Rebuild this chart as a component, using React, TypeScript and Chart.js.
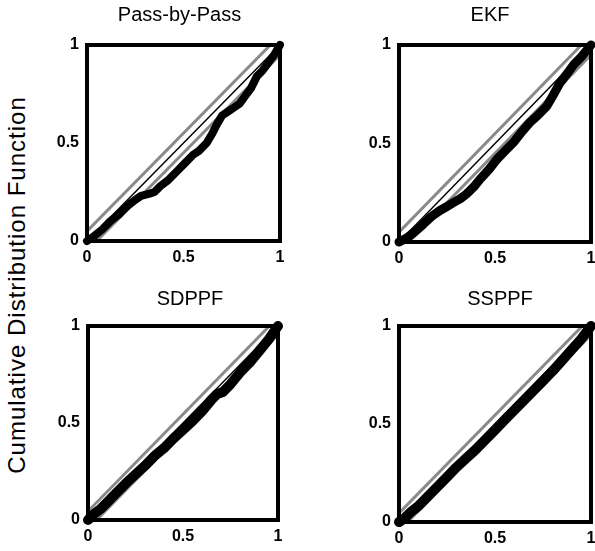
import React, { useEffect, useRef } from "react";
import { Chart, registerables } from "chart.js";

Chart.register(...registerables);

// ---- data ----
const panelTitles = ["Pass-by-Pass", "EKF", "SDPPF", "SSPPF"];
const yAxisTitle = "Cumulative Distribution Function";
const tickValues = [0, 0.5, 1];
const tickLabels = ["0", "0.5", "1"];
// KS confidence bound half-width per panel
const ksBounds = [0.05, 0.05, 0.045, 0.045];

// KS curves: model quantiles (x) vs empirical CDF (y)
const passX = [0, 0.03, 0.08, 0.12, 0.17, 0.21, 0.25, 0.28, 0.32, 0.35, 0.38, 0.42, 0.47, 0.51, 0.55, 0.58, 0.62, 0.65, 0.67, 0.7, 0.73, 0.76, 0.79, 0.82, 0.85, 0.88, 0.91, 0.94, 0.97, 1];
const passY = [0, 0.02, 0.06, 0.1, 0.14, 0.18, 0.21, 0.23, 0.24, 0.25, 0.28, 0.31, 0.36, 0.4, 0.44, 0.46, 0.5, 0.55, 0.59, 0.64, 0.66, 0.68, 0.7, 0.74, 0.78, 0.84, 0.87, 0.91, 0.95, 1];

const ekfX = [0, 0.04, 0.08, 0.126, 0.17, 0.213, 0.25, 0.283, 0.32, 0.353, 0.39, 0.423, 0.47, 0.51, 0.55, 0.6, 0.64, 0.685, 0.72, 0.77, 0.8, 0.84, 0.88, 0.91, 0.95, 1];
const ekfY = [0, 0.02, 0.05, 0.09, 0.13, 0.16, 0.18, 0.2, 0.22, 0.245, 0.28, 0.32, 0.37, 0.42, 0.46, 0.51, 0.56, 0.61, 0.64, 0.69, 0.74, 0.81, 0.86, 0.9, 0.94, 1];

const sdppfX = [0, 0.03, 0.07, 0.1, 0.15, 0.2, 0.25, 0.3, 0.35, 0.4, 0.45, 0.5, 0.55, 0.6, 0.65, 0.68, 0.71, 0.75, 0.8, 0.85, 0.9, 0.95, 1];
const sdppfY = [0, 0.03, 0.06, 0.09, 0.14, 0.19, 0.235, 0.28, 0.33, 0.37, 0.42, 0.465, 0.51, 0.56, 0.62, 0.65, 0.66, 0.7, 0.76, 0.81, 0.87, 0.93, 1];

const ssppfX = [0, 0.03, 0.06, 0.1, 0.15, 0.2, 0.25, 0.3, 0.35, 0.4, 0.45, 0.5, 0.55, 0.6, 0.65, 0.7, 0.75, 0.8, 0.85, 0.9, 0.95, 1];
const ssppfY = [0, 0.02, 0.05, 0.08, 0.13, 0.18, 0.23, 0.28, 0.325, 0.37, 0.42, 0.47, 0.52, 0.57, 0.62, 0.67, 0.72, 0.77, 0.825, 0.88, 0.935, 1];

const curveXs = [passX, ekfX, sdppfX, ssppfX];
const curveYs = [passY, ekfY, sdppfY, ssppfY];

// ---- layout (page pixels) ----
const panels = [
  { l: 87, t: 45, r: 280, b: 241, titleDx: -4, titleY: 15, curveW: 8 },
  { l: 399, t: 45, r: 591, b: 242, titleDx: -5, titleY: 15, curveW: 9 },
  { l: 88, t: 326, r: 278, b: 520, titleDx: 7, titleY: 299, curveW: 10 },
  { l: 399, t: 326, r: 591, b: 522, titleDx: 5, titleY: 299, curveW: 10 },
];
const PAD_L = 40;
const PAD_T = 45;
const PAD_R = 12;
const PAD_B = 36;
const FONT = "'Liberation Sans', Arial, Helvetica, sans-serif";

function Panel({ idx }: { idx: number }) {
  const ref = useRef<HTMLCanvasElement>(null);
  const p = panels[idx];
  const w = p.r - p.l + PAD_L + PAD_R;
  const h = p.b - p.t + PAD_T + PAD_B;
  const left = p.l - PAD_L;
  const top = p.t - PAD_T;

  useEffect(() => {
    const k = ksBounds[idx];
    const curve = curveXs[idx].map((x, i) => ({ x, y: curveYs[idx][i] }));
    const frame = {
      id: "frame",
      afterDatasetsDraw(chart: any) {
        const { ctx, chartArea: a } = chart;
        ctx.save();
        ctx.strokeStyle = "#000";
        ctx.lineWidth = 4;
        ctx.strokeRect(a.left, a.top, a.right - a.left, a.bottom - a.top);
        ctx.restore();
      },
      afterDraw(chart: any) {
        const { ctx, chartArea: a } = chart;
        ctx.save();
        ctx.fillStyle = "#000";
        ctx.font = `20px ${FONT}`;
        ctx.textAlign = "center";
        ctx.textBaseline = "middle";
        ctx.fillText(panelTitles[idx], (a.left + a.right) / 2 + p.titleDx, p.titleY - top);
        ctx.restore();
      },
    };
    const tickFont = { family: FONT, size: 16, weight: "bold" as const };
    const chart = new Chart(ref.current!, {
      type: "scatter",
      data: {
        datasets: [
          {
            data: curve,
            showLine: true,
            borderColor: "#000",
            borderWidth: p.curveW,
            pointRadius: 0,
            borderJoinStyle: "round",
            borderCapStyle: "round",
            tension: 0,
            clip: 8,
          } as any,
          {
            data: [
              { x: 0, y: 0 },
              { x: 1, y: 1 },
            ],
            showLine: true,
            borderColor: "#000",
            borderWidth: 1.5,
            pointRadius: 0,
          },
          {
            data: [
              { x: 0, y: k },
              { x: 1 - k, y: 1 },
            ],
            showLine: true,
            borderColor: "#8a8a8a",
            borderWidth: 3,
            pointRadius: 0,
          },
          {
            data: [
              { x: k, y: 0 },
              { x: 1, y: 1 - k },
            ],
            showLine: true,
            borderColor: "#8a8a8a",
            borderWidth: 3,
            pointRadius: 0,
          },
        ],
      },
      options: {
        animation: false,
        responsive: false,
        events: [],
        layout: { padding: { left: 0, top: PAD_T, right: PAD_R, bottom: 4 } },
        plugins: { legend: { display: false }, tooltip: { enabled: false }, title: { display: false } },
        scales: {
          x: {
            type: "linear",
            min: 0,
            max: 1,
            grid: { display: false, drawTicks: false },
            border: { display: false },
            afterBuildTicks: (s: any) => {
              s.ticks = tickValues.map((v) => ({ value: v }));
            },
            afterFit: (s: any) => {
              s.height = PAD_B - 4;
            },
            ticks: {
              padding: 7,
              color: "#000",
              font: tickFont,
              maxRotation: 0,
              autoSkip: false,
              callback: (v: any) => tickLabels[tickValues.indexOf(Number(v))],
            },
          },
          y: {
            type: "linear",
            min: 0,
            max: 1,
            grid: { display: false, drawTicks: false },
            border: { display: false },
            afterBuildTicks: (s: any) => {
              s.ticks = tickValues.map((v) => ({ value: v }));
            },
            afterFit: (s: any) => {
              s.width = PAD_L;
            },
            ticks: {
              padding: 8,
              color: "#000",
              font: tickFont,
              autoSkip: false,
              callback: (v: any) => tickLabels[tickValues.indexOf(Number(v))],
            },
          },
        },
      },
      plugins: [frame],
    });
    return () => chart.destroy();
  }, [idx]);

  return (
    <canvas
      ref={ref}
      width={w}
      height={h}
      style={{ position: "absolute", left, top, width: w, height: h }}
    />
  );
}

export default function App() {
  return (
    <div style={{ position: "absolute", left: 0, top: 0, width: 595, height: 551, background: "#fff", overflow: "hidden" }}>
      {panels.map((_, i) => (
        <Panel key={i} idx={i} />
      ))}
      <div
        style={{
          position: "absolute",
          left: 17,
          top: 285,
          transform: "translate(-50%, -50%) rotate(-90deg)",
          whiteSpace: "nowrap",
          fontFamily: FONT,
          fontSize: 24,
          letterSpacing: "1px",
          color: "#000",
        }}
      >
        {yAxisTitle}
      </div>
    </div>
  );
}
